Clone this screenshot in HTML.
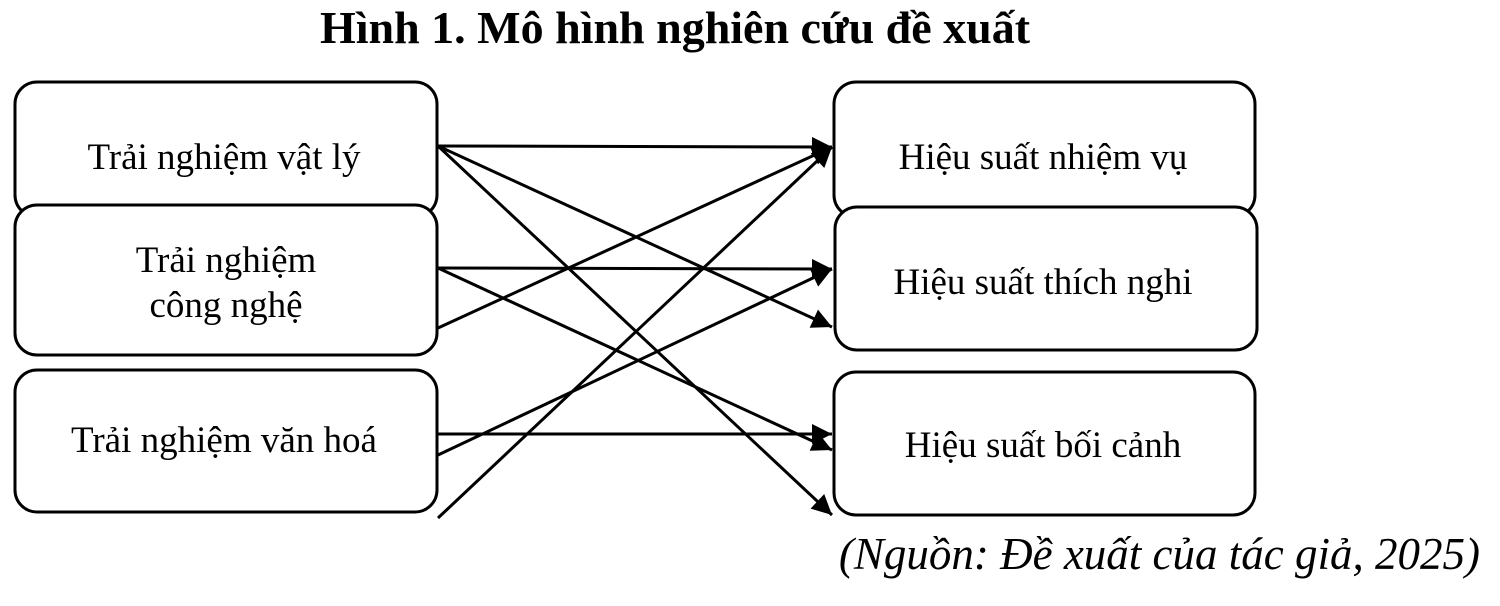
<!DOCTYPE html>
<html><head><meta charset="utf-8"><style>
body{margin:0;background:#fff;width:1500px;height:601px;overflow:hidden}
svg text{font-family:"Liberation Serif",serif;fill:#000}
</style></head><body>
<svg width="1500" height="601" xmlns="http://www.w3.org/2000/svg">
<defs>
<marker id="b" viewBox="0 0 10 10" refX="10" refY="5" markerWidth="22" markerHeight="20" orient="auto" markerUnits="userSpaceOnUse"><path d="M0,0 L10,5 L0,10 z" fill="#000"/></marker></defs>
<text x="675" y="43" font-size="46" font-weight="bold" text-anchor="middle">Hình 1. Mô hình nghiên cứu đề xuất</text>
<g fill="#fff" stroke="#000" stroke-width="3">
<rect x="15" y="82" width="422" height="135" rx="22"/>
<rect x="15" y="205" width="422" height="150" rx="22"/>
<rect x="15" y="370" width="422" height="142" rx="22"/>
<rect x="834" y="82" width="421" height="135" rx="22"/>
<rect x="835" y="207" width="422" height="143" rx="22"/>
<rect x="834" y="372" width="421" height="143" rx="22"/>
</g>
<g font-size="37" text-anchor="middle">
<text x="224" y="169">Trải nghiệm vật lý</text>
<text x="226" y="272">Trải nghiệm</text>
<text x="226" y="317">công nghệ</text>
<text x="224" y="452">Trải nghiệm văn hoá</text>
<text x="1043" y="169">Hiệu suất nhiệm vụ</text>
<text x="1043" y="294">Hiệu suất thích nghi</text>
<text x="1043" y="457">Hiệu suất bối cảnh</text>
</g>
<g stroke="#000" stroke-width="3" marker-end="url(#b)">
<line x1="438" y1="146" x2="832" y2="147"/>
<line x1="438" y1="146" x2="832" y2="327"/>
<line x1="438" y1="146" x2="832" y2="515"/>
<line x1="438" y1="268" x2="832" y2="269"/>
<line x1="438" y1="268" x2="832" y2="450"/>
<line x1="438" y1="328" x2="832" y2="147"/>
<line x1="438" y1="434" x2="832" y2="434"/>
<line x1="438" y1="455" x2="832" y2="269"/>
<line x1="438" y1="518" x2="832" y2="147"/>
</g>
<text x="1480" y="569" font-size="45" font-style="italic" text-anchor="end">(Nguồn: Đề xuất của tác giả, 2025)</text>
</svg>
</body></html>
